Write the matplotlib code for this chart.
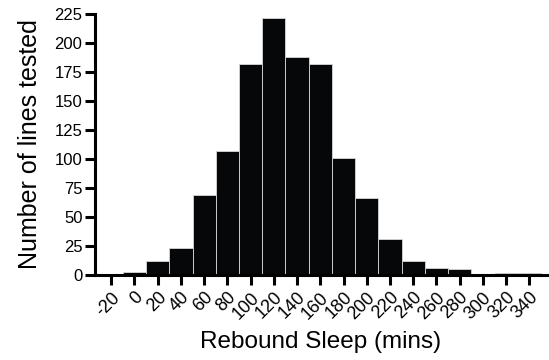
import numpy as np
import matplotlib
matplotlib.use("Agg")
import matplotlib.pyplot as plt

plt.rcParams['font.family'] = ['Liberation Sans', 'DejaVu Sans']

# bin centres (mins) and counts per bin
bin_centres = [-20, 0, 20, 40, 60, 80, 100, 120, 140, 160, 180, 200, 220, 240, 260, 280, 300, 320, 340]
counts = [1, 3, 12, 23, 69, 107, 182, 222, 188, 182, 101, 66, 31, 12, 6, 5, 1, 2, 2]
y_ticks = [0, 25, 50, 75, 100, 125, 150, 175, 200, 225]

fig = plt.figure(figsize=(5.49, 3.6), dpi=100)
ax = fig.add_axes([0.173, 0.236, 0.823, 0.725])

ax.bar(bin_centres, counts, width=20, color='#060709', edgecolor='#d8d8d8', linewidth=0.6)

ax.set_xlim(-34, 355)
ax.set_ylim(0, 225)
ax.set_xticks(bin_centres)
ax.set_xticklabels([str(c) for c in bin_centres], rotation=45, ha='right', rotation_mode='anchor')
ax.set_yticks(y_ticks)

for side in ['top', 'right']:
    ax.spines[side].set_visible(False)
for side in ['left', 'bottom']:
    ax.spines[side].set_linewidth(2.2)
ax.tick_params(axis='y', width=2.2, length=7, labelsize=12, pad=2)
ax.tick_params(axis='x', width=2.2, length=7, labelsize=13, pad=3)

ax.set_xlabel('Rebound Sleep (mins)', fontsize=17.5, labelpad=6)
ax.set_ylabel('Number of lines tested', fontsize=18, labelpad=9)

fig.savefig('out.png', dpi=100)
